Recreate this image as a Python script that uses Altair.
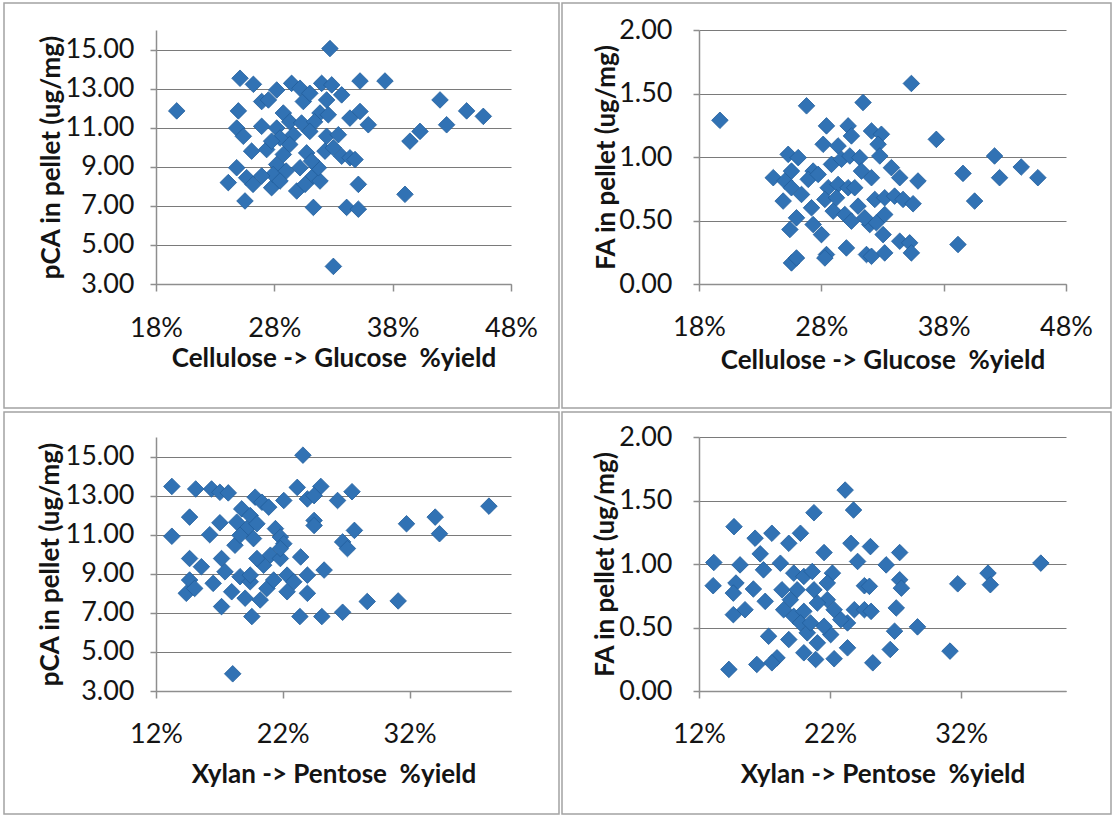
import altair as alt
import pandas as pd

# ---------------- data ----------------
# Panel 1: Cellulose -> Glucose %yield vs pCA
cg_x1 = [19.75, 32.70, 25.10, 26.23, 26.93, 27.50, 28.20, 29.46, 30.17, 30.45, 31.00, 32.00, 32.85,
         32.42, 33.69, 35.24, 37.35, 42.00, 44.25, 45.66, 42.56, 40.31, 39.46, 39.04, 35.24, 34.39,
         35.94, 35.10, 34.11, 35.10, 31.30, 32.99, 24.96, 24.82, 25.38, 26.93, 28.20, 28.76, 29.30,
         30.30, 31.86, 32.56, 31.40, 28.48, 29.60, 26.08, 27.35, 24.82, 24.11, 25.52, 25.66, 26.20,
         27.77, 28.20, 28.76, 27.90, 29.00, 29.89, 30.60, 30.73, 30.17, 31.30, 31.86, 31.72, 32.28,
         32.42, 33.41, 32.99, 33.69, 34.39, 34.82, 27.77, 29.30, 31.15, 31.00, 26.93, 28.48]
pca_y1 = [11.86, 15.05, 13.53, 13.22, 12.34, 12.42, 12.93, 13.27, 13.02, 12.34, 12.76, 13.27, 13.19,
          12.42, 12.68, 13.39, 13.39, 12.42, 11.86, 11.58, 11.15, 10.81, 10.31, 7.59, 11.83, 11.49,
          11.15, 8.10, 6.92, 6.83, 6.92, 3.90, 11.86, 10.98, 10.56, 11.07, 10.98, 11.75, 11.30,
          11.24, 11.75, 11.66, 11.30, 10.47, 10.64, 9.80, 9.88, 8.95, 8.19, 7.25, 8.44, 8.10,
          7.93, 9.12, 9.63, 8.60, 8.78, 7.76, 8.10, 9.71, 8.95, 8.53, 8.27, 8.95, 9.80,
          10.56, 10.64, 9.97, 9.54, 9.46, 9.37, 10.31, 10.14, 9.29, 10.81, 8.53, 8.27]

# Panel 2: Cellulose -> Glucose %yield vs FA
cg_x2 = [19.71, 35.36, 26.79, 31.41, 28.42, 30.19, 30.46, 32.10, 32.91, 32.64, 28.15, 29.37, 37.40,
         25.29, 26.11, 32.78, 42.16, 44.34, 45.70, 42.57, 39.58, 40.53, 39.17, 24.07, 25.02, 24.88,
         25.56, 25.97, 25.43, 25.56, 25.97, 27.33, 26.93, 27.74, 27.20, 27.33, 28.01, 28.42, 28.29,
         30.05, 28.83, 29.65, 30.33, 31.14, 28.56, 29.37, 30.19, 30.73, 28.97, 29.92, 30.46, 31.00,
         31.28, 32.10, 31.96, 32.50, 33.05, 31.69, 32.10, 33.18, 33.73, 34.41, 35.90, 32.37, 33.18,
         33.99, 34.68, 35.50, 34.41, 35.22, 35.36, 33.18, 31.55, 26.38, 28.29, 29.24, 25.56]
fa_y2 = [1.289, 1.579, 1.403, 1.429, 1.245, 1.245, 1.166, 1.205, 1.179, 1.100, 1.100, 1.087, 1.139,
         1.021, 0.995, 1.008, 1.008, 0.921, 0.837, 0.837, 0.871, 0.653, 0.311, 0.837, 0.811, 0.653,
         0.758, 0.521, 0.429, 0.166, 0.205, 0.889, 0.824, 0.863, 0.600, 0.468, 0.389, 0.232, 0.205,
         0.284, 0.942, 0.982, 1.008, 0.995, 0.758, 0.784, 0.758, 0.758, 0.574, 0.547, 0.495, 0.613,
         0.889, 0.837, 0.468, 0.482, 0.389, 0.232, 0.218, 0.245, 0.916, 0.837, 0.811, 0.666, 0.679,
         0.692, 0.666, 0.632, 0.337, 0.324, 0.245, 0.547, 0.521, 0.705, 0.666, 0.679, 0.889]

# Panel 3: Xylan -> Pentose %yield vs pCA
xp_x3 = [23.59, 13.25, 15.13, 16.38, 17.04, 17.70, 19.82, 20.36, 20.89, 22.08, 23.14, 25.00, 23.94,
         24.47, 26.32, 27.46, 14.65, 13.25, 16.24, 17.04, 18.37, 18.76, 19.43, 19.16, 19.96, 21.42,
         21.81, 22.08, 24.47, 24.47, 27.65, 26.72, 27.10, 31.76, 34.02, 34.36, 38.26, 18.23, 19.69,
         14.65, 15.58, 17.17, 17.44, 14.65, 14.39, 15.05, 16.51, 17.97, 18.63, 19.43, 19.03, 20.22,
         17.17, 19.56, 20.75, 20.49, 21.02, 21.81, 22.34, 22.34, 21.28, 23.41, 23.94, 25.26, 23.94,
         23.35, 25.08, 26.72, 28.66, 31.10, 18.05, 19.96, 21.81, 19.43, 18.63, 22.87]
pca_y3 = [15.07, 13.47, 13.34, 13.34, 13.17, 13.14, 12.92, 12.66, 12.41, 12.75, 13.42, 13.47, 12.83,
          13.00, 12.75, 13.20, 11.90, 10.92, 11.00, 11.61, 11.64, 12.32, 11.98, 11.31, 11.56, 11.31,
          10.88, 10.54, 11.73, 11.47, 11.22, 10.63, 10.29, 11.56, 11.90, 11.05, 12.46, 10.46, 10.80,
          9.78, 9.36, 9.78, 9.10, 8.68, 8.00, 8.25, 8.51, 8.08, 8.85, 8.59, 7.75, 7.66,
          7.32, 6.81, 8.25, 9.44, 9.95, 9.78, 8.93, 8.08, 8.68, 9.86, 8.93, 9.19, 8.00,
          6.81, 6.81, 7.03, 7.58, 7.61, 3.88, 9.78, 10.29, 8.93, 10.97, 8.59]

# Panel 4: Xylan -> Pentose %yield vs FA
xp_x4 = [23.15, 23.79, 20.77, 14.67, 16.28, 17.56, 18.85, 19.74, 23.59, 25.08, 27.31, 21.54, 16.67,
         13.13, 15.13, 16.92, 18.21, 24.10, 26.28, 38.08, 34.05, 34.23, 31.74, 13.08, 14.82, 14.62,
         16.15, 15.51, 14.62, 17.05, 18.33, 18.46, 19.23, 20.00, 20.64, 22.18, 19.49, 20.77, 21.79,
         19.23, 20.00, 21.03, 22.31, 23.33, 23.85, 24.62, 25.13, 24.62, 25.00, 27.05, 27.31, 27.44,
         26.92, 28.67, 26.59, 31.15, 17.31, 18.85, 19.74, 20.26, 21.03, 22.05, 20.00, 20.90, 22.31,
         23.33, 25.26, 17.95, 17.56, 16.41, 14.28, 22.82, 21.54, 18.97, 21.79, 20.51]
fa_y4 = [1.582, 1.425, 1.404, 1.294, 1.203, 1.242, 1.163, 1.242, 1.163, 1.137, 1.090, 1.090, 1.080,
         1.012, 0.993, 0.954, 1.006, 1.020, 0.993, 1.007, 0.928, 0.837, 0.844, 0.829, 0.850, 0.771,
         0.803, 0.640, 0.601, 0.706, 0.797, 0.640, 0.928, 0.902, 0.941, 0.928, 0.797, 0.797, 0.719,
         0.588, 0.627, 0.693, 0.640, 0.536, 0.640, 0.640, 0.627, 0.829, 0.824, 0.654, 0.876, 0.810,
         0.471, 0.505, 0.327, 0.314, 0.431, 0.405, 0.536, 0.458, 0.379, 0.444, 0.301, 0.248, 0.254,
         0.340, 0.222, 0.261, 0.222, 0.209, 0.170, 0.562, 0.510, 0.719, 0.850, 0.536]

title_cg = "Cellulose -> Glucose \u00a0%yield"
title_xp = "Xylan -> Pentose \u00a0%yield"
title_pca = "pCA in pellet (ug/mg)"
title_fa = "FA in pellet (ug/mg)"

x_ticks_cg = [18, 28, 38, 48]
x_ticks_xp = [12, 22, 32]
y_ticks_pca = [3, 5, 7, 9, 11, 13, 15]
y_ticks_fa = [0, 0.5, 1.0, 1.5, 2.0]

FONT = "Lato"
PT_FILL = "#3172B4"
PT_STROKE = "#225E9C"


def panel(xs, ys, xtitle, ytitle, xdom, xticks, ydom, yticks, w, h,
          frame, ytitle_x, ylabpad, xtitle_y, xlabpad):
    df = pd.DataFrame({"x": xs, "y": ys})
    pts = alt.Chart(df).mark_point(
        shape="diamond", filled=True, size=275, fill=PT_FILL, stroke=PT_STROKE,
        strokeWidth=0.8, opacity=1
    ).encode(
        x=alt.X("x:Q",
                scale=alt.Scale(domain=xdom, nice=False, zero=False),
                axis=alt.Axis(values=xticks, labelExpr="datum.value + '%'", grid=False,
                              title=xtitle, tickSize=7, labelPadding=xlabpad,
                              labelBaseline="middle", titleX=w / 2, titleY=xtitle_y,
                              titleBaseline="middle", titleAlign="center")),
        y=alt.Y("y:Q",
                scale=alt.Scale(domain=ydom, nice=False, zero=False),
                axis=alt.Axis(values=yticks, format=".2f", grid=True, title=ytitle,
                              tickSize=6, labelPadding=ylabpad,
                              titleAngle=270, titleX=ytitle_x, titleY=h / 2,
                              titleBaseline="middle", titleAlign="center")),
    )
    box = alt.Chart(pd.DataFrame({"k": [0]})).mark_rect(
        filled=False, stroke="#a3a3a3", strokeWidth=1.5
    ).encode(
        x=alt.value(frame[0]), x2=alt.value(frame[1]),
        y=alt.value(frame[2]), y2=alt.value(frame[3]),
    )
    return alt.layer(box, pts).properties(width=w, height=h)


p1 = panel(cg_x1, pca_y1, title_cg, title_pca, [18, 48], x_ticks_cg, [3, 16], y_ticks_pca,
           355, 254, (-152, 403, -27, 378), -105, 16, 74, 37)
p2 = panel(cg_x2, fa_y2, title_cg, title_fa, [18, 48], x_ticks_cg, [0, 2], y_ticks_fa,
           367, 254, (-137, 412, -27, 378), -93, 21, 76, 36)
p3 = panel(xp_x3, pca_y3, title_xp, title_pca, [12, 40], x_ticks_xp, [3, 16], y_ticks_pca,
           355, 254, (-152, 403, -25, 377), -106, 16, 83, 36)
p4 = panel(xp_x4, fa_y4, title_xp, title_fa, [12, 40], x_ticks_xp, [0, 2], y_ticks_fa,
           367, 254, (-137, 412, -25, 377), -94, 21, 83, 36)

chart = alt.concat(
    p1, p2, p3, p4, columns=2, bounds="flush",
    spacing=alt.RowColnumber(row=153, column=188),
).properties(
    padding={"left": 3, "top": 2, "right": 0, "bottom": 0},
    background="white",
).configure_view(stroke=None).configure_axis(
    labelFont=FONT, titleFont=FONT, labelFontSize=27, titleFontSize=26,
    titleFontWeight="bold", labelColor="#141414", titleColor="#141414",
    domainColor="#8e8e8e", domainWidth=1.5, tickColor="#8e8e8e", tickWidth=1.5,
    gridColor="#7a7a7a", gridWidth=1.2, labelFlush=False, labelOverlap=False,
)

chart.save("out.html", embed_options={"renderer": "svg", "actions": False})
